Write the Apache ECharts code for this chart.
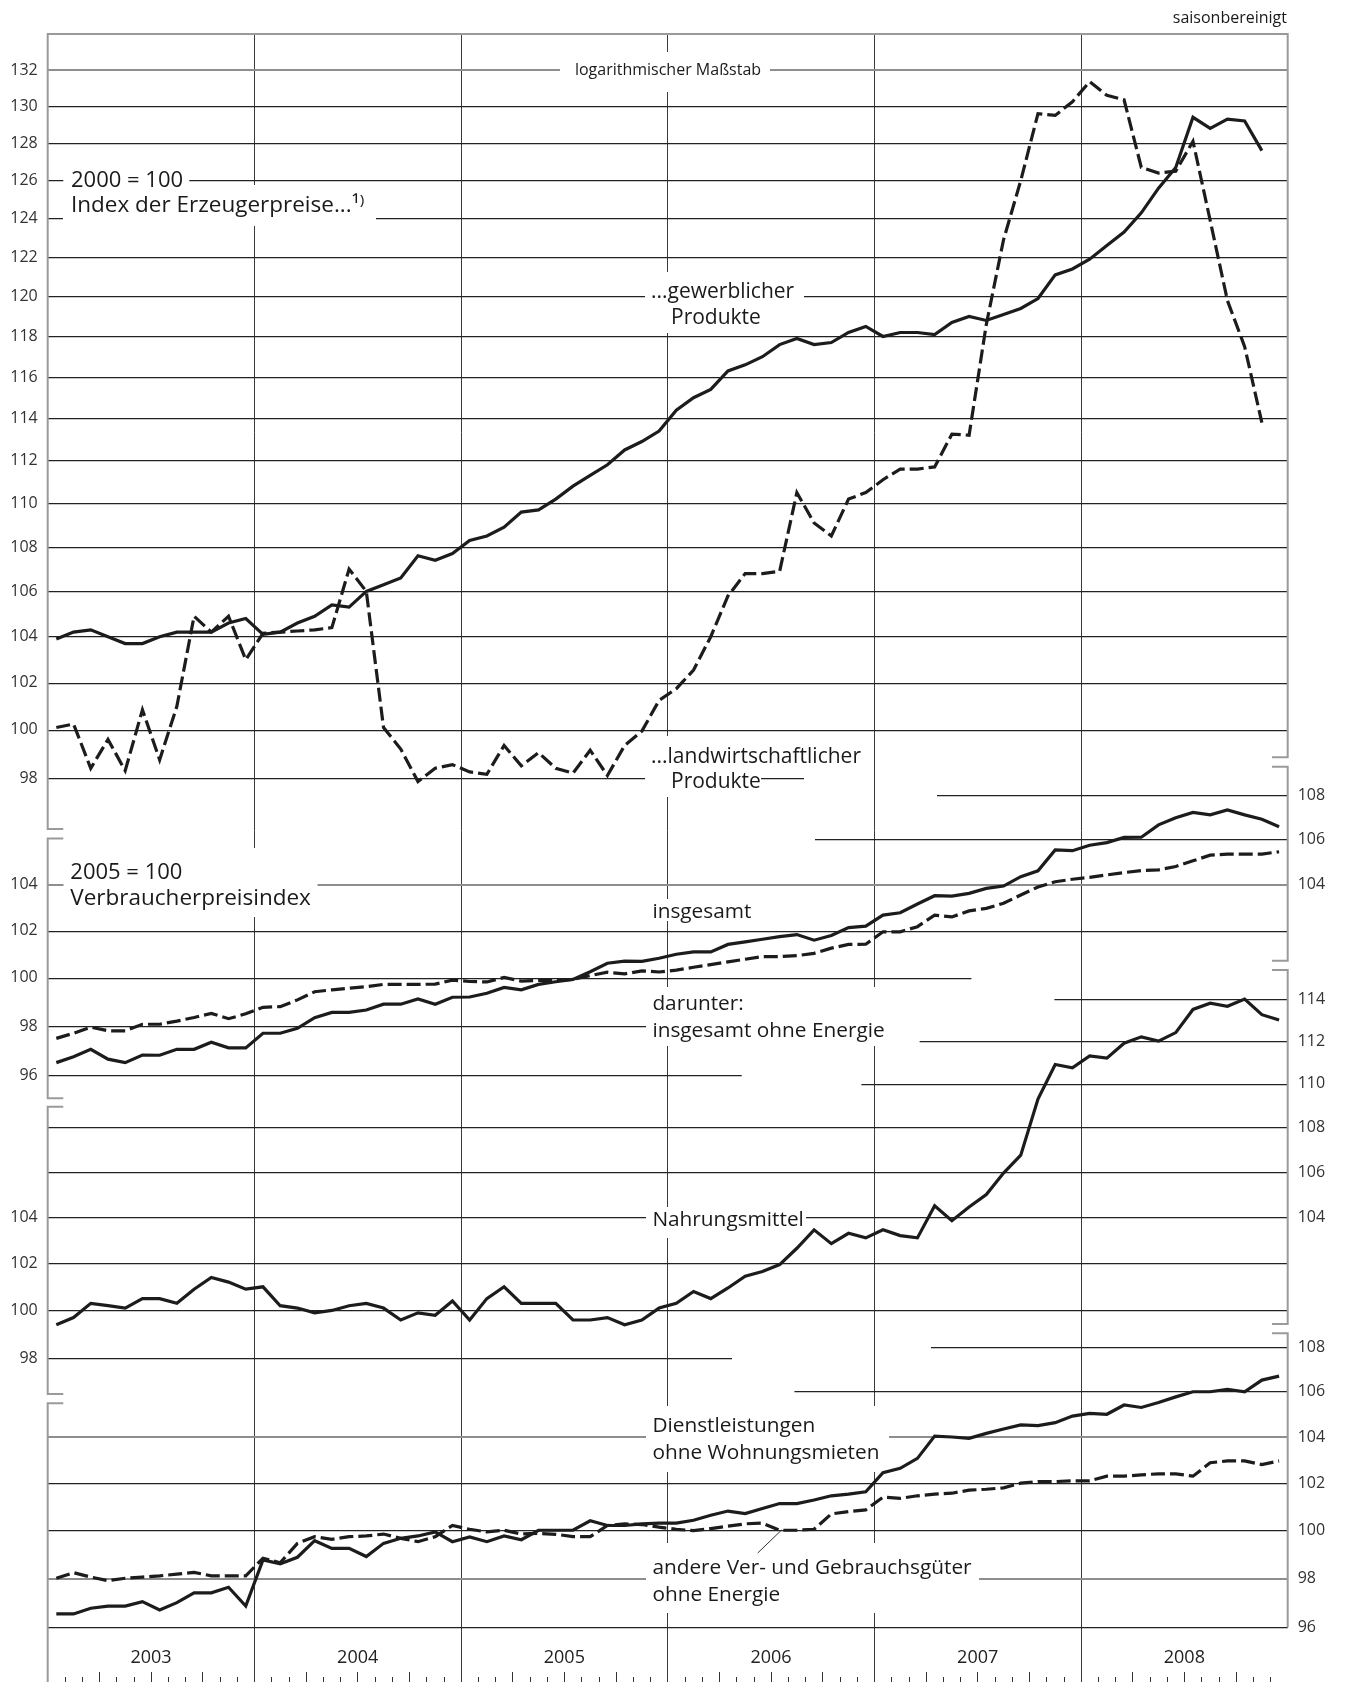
<!DOCTYPE html>
<html><head><meta charset="utf-8">
<script src="https://cdn.jsdelivr.net/npm/echarts@6/dist/echarts.min.js"></script>
<style>html,body{margin:0;padding:0;background:#fff}#c{width:1346px;height:1682px}</style>
</head><body><div id="c"></div>
<script>
// ---------- data ----------
const YEARS = ['2003','2004','2005','2006','2007','2008'];
const MONTHS = [];
YEARS.forEach(y => { for (let m = 1; m <= 12; m++) MONTHS.push(y + '-' + String(m).padStart(2, '0')); });

// Erzeugerpreise, 2000 = 100 (Jan 2003 - Nov 2008)
const ppiIndustrial = [103.9,104.2,104.3,104.0,103.7,103.7,104.0,104.2,104.2,104.2,104.6,104.8,
 104.1,104.2,104.6,104.9,105.4,105.3,106.0,106.3,106.6,107.6,107.4,107.7,
 108.3,108.5,108.9,109.6,109.7,110.2,110.8,111.3,111.8,112.5,112.9,113.4,
 114.4,115.0,115.4,116.3,116.6,117.0,117.6,117.9,117.6,117.7,118.2,118.5,
 118.0,118.2,118.2,118.1,118.7,119.0,118.8,119.1,119.4,119.9,121.1,121.4,
 121.9,122.6,123.3,124.3,125.6,126.7,129.4,128.8,129.3,129.2,127.6];
const ppiAgricultural = [100.1,100.25,98.4,99.6,98.3,100.85,98.75,101.0,104.9,104.2,104.9,103.0,
 104.15,104.2,104.25,104.3,104.4,107.0,106.0,100.1,99.2,97.85,98.4,98.55,
 98.25,98.15,99.35,98.5,99.05,98.4,98.2,99.15,98.1,99.35,99.95,101.25,
 101.75,102.55,104.0,105.8,106.8,106.8,106.9,110.5,109.1,108.5,110.2,110.5,
 111.1,111.6,111.6,111.7,113.25,113.2,118.6,122.9,126.0,129.6,129.5,130.25,
 131.35,130.6,130.35,126.7,126.4,126.5,128.1,123.9,119.8,117.5,113.8];
// Verbraucherpreise, 2005 = 100 (Jan 2003 - Dec 2008)
const cpiTotal = [96.5,96.74,97.04,96.64,96.5,96.81,96.8,97.04,97.04,97.33,97.1,97.1,
 97.7,97.7,97.9,98.34,98.56,98.56,98.66,98.9,98.9,99.12,98.9,99.19,
 99.2,99.36,99.6,99.5,99.73,99.84,99.94,100.26,100.62,100.71,100.7,100.83,
 101.0,101.1,101.1,101.42,101.53,101.64,101.75,101.84,101.6,101.8,102.14,102.2,
 102.68,102.78,103.16,103.52,103.5,103.62,103.84,103.94,104.35,104.61,105.53,105.5,
 105.74,105.86,106.09,106.1,106.65,106.97,107.21,107.1,107.32,107.1,106.9,106.57];
const cpiExEnergy = [97.49,97.7,97.95,97.8,97.8,98.07,98.07,98.2,98.35,98.52,98.3,98.5,
 98.77,98.8,99.08,99.42,99.5,99.57,99.63,99.73,99.73,99.73,99.74,99.91,
 99.85,99.83,100.02,99.87,99.9,99.88,99.94,100.1,100.24,100.17,100.3,100.25,
 100.33,100.45,100.56,100.68,100.79,100.9,100.9,100.94,101.04,101.26,101.42,101.43,
 101.96,101.96,102.18,102.68,102.6,102.86,102.97,103.19,103.55,103.9,104.13,104.24,
 104.32,104.43,104.53,104.62,104.65,104.8,105.05,105.3,105.35,105.35,105.35,105.45];
const cpiFood = [99.4,99.7,100.3,100.2,100.1,100.5,100.5,100.3,100.9,101.4,101.2,100.9,
 101.0,100.2,100.1,99.9,100.0,100.2,100.3,100.1,99.6,99.9,99.8,100.4,
 99.6,100.5,101.0,100.3,100.3,100.3,99.6,99.6,99.7,99.4,99.6,100.1,
 100.3,100.8,100.5,100.95,101.45,101.65,101.95,102.65,103.45,102.85,103.3,103.1,
 103.45,103.2,103.1,104.5,103.85,104.45,105.0,105.95,106.75,109.3,110.9,110.75,
 111.3,111.2,111.9,112.2,112.0,112.4,113.5,113.8,113.65,114.0,113.25,113.0];
const cpiServices = [96.54,96.54,96.77,96.86,96.86,97.04,96.7,97.0,97.4,97.4,97.63,96.86,
 98.76,98.6,98.87,99.56,99.24,99.24,98.9,99.45,99.66,99.76,99.93,99.52,
 99.72,99.52,99.76,99.6,100.0,100.0,100.0,100.4,100.2,100.2,100.27,100.3,
 100.3,100.42,100.63,100.81,100.7,100.92,101.13,101.13,101.28,101.46,101.53,101.63,
 102.45,102.64,103.07,104.04,104.0,103.94,104.16,104.35,104.53,104.5,104.63,104.92,
 105.04,105.0,105.41,105.3,105.52,105.77,106.0,106.0,106.11,106.0,106.52,106.7];
const cpiOtherGoods = [98.0,98.23,98.05,97.9,98.0,98.05,98.1,98.17,98.24,98.1,98.1,98.1,
 98.83,98.64,99.45,99.73,99.62,99.73,99.76,99.84,99.66,99.52,99.73,100.2,
 100.04,99.93,100.0,99.84,99.87,99.83,99.73,99.73,100.2,100.27,100.24,100.13,
 100.04,99.98,100.07,100.17,100.27,100.3,100.0,100.0,100.04,100.69,100.79,100.86,
 101.4,101.35,101.46,101.53,101.57,101.7,101.74,101.8,102.0,102.07,102.07,102.1,
 102.1,102.3,102.3,102.36,102.4,102.4,102.3,102.88,102.96,102.96,102.8,102.96];

// tick labels
const ticksP1 = [98,100,102,104,106,108,110,112,114,116,118,120,122,124,126,128,130,132];
const ticksP2Left = [96,98,100,102,104];
const ticksP2Right = [104,106,108];
const ticksP3Left = [98,100,102,104];
const ticksP3Right = [104,106,108,110,112,114];
const ticksP4Right = [96,98,100,102,104,106,108];

// ---------- layout ----------
const FONT = '"Open Sans","Noto Sans",sans-serif';
const L = 47.7, R = 1287.7, W = R - L, MPX = W / 72;
const toM = px => (px - L) / MPX;
const K = 2377; // px per ln-unit, common to all log panels
const PANELS = [
  {top: 34,   bottom: 829,    anchorV: 132, anchorY: 70},
  {top: 760,  bottom: 1100,   anchorV: 104, anchorY: 884.7},
  {top: 965,  bottom: 1400,   anchorV: 114, anchorY: 999},
  {top: 1330, bottom: 1627.3, anchorV: 108, anchorY: 1347.3}
];
const BOTTOM = 1627.3;

const GRIDL = {color: '#222', width: 1.25, type: 'solid'};
const GRAYL = {color: '#8e8e8e', width: 2, type: 'solid'};
const NOL = {color: 'rgba(0,0,0,0)', width: 0, type: 'solid'};

function seg(v, x0, x1, style, labelPos) {
  const a = {coord: [toM(x0), v], lineStyle: style};
  if (labelPos) a.label = {show: true, position: labelPos, formatter: String(v)};
  return [a, {coord: [toM(x1), v]}];
}
function labelOnly(v, side) {
  return side === 'end' ? seg(v, R - 1, R, NOL, 'end') : seg(v, L, L + 1, NOL, 'start');
}

// gridline specs per panel
const lines = [[], [], [], []];
ticksP1.forEach(v => {
  if (v === 132) lines[0].push(seg(v, L, R, GRAYL, 'start'));
  else if (v === 98) lines[0].push(seg(v, L, 804, GRIDL, 'start'));
  else lines[0].push(seg(v, L, R, GRIDL, 'start'));
});
// panel 2
lines[1].push(seg(108, 937, R, GRIDL, 'end'));
lines[1].push(seg(106, 815, R, GRIDL, 'end'));
lines[1].push(seg(104, L, R, GRAYL, 'start'));
lines[1].push(labelOnly(104, 'end'));
lines[1].push(seg(102, L, R, GRIDL, 'start'));
lines[1].push(seg(100, L, 971.4, GRIDL, 'start'));
lines[1].push(seg(98, L, 646, GRIDL, 'start'));
lines[1].push(seg(96, L, 741.7, GRIDL, 'start'));
// panel 3
lines[2].push(seg(114, 1054.4, R, GRIDL, 'end'));
lines[2].push(seg(112, 919.6, R, GRIDL, 'end'));
lines[2].push(seg(110, 861.4, R, GRIDL, 'end'));
lines[2].push(seg(108, L, R, GRIDL, 'end'));
lines[2].push(seg(106, L, R, GRIDL, 'end'));
lines[2].push(seg(104, L, R, GRIDL, 'start'));
lines[2].push(labelOnly(104, 'end'));
lines[2].push(seg(102, L, R, GRIDL, 'start'));
lines[2].push(seg(100, L, R, GRIDL, 'start'));
lines[2].push(seg(98, L, 732, GRIDL, 'start'));
// panel 4
lines[3].push(seg(108, 931, R, GRIDL, 'end'));
lines[3].push(seg(106, 794.4, R, GRIDL, 'end'));
lines[3].push(seg(104, L, R, GRAYL, 'end'));
lines[3].push(seg(102, L, R, GRIDL, 'end'));
lines[3].push(seg(100, L, R, GRIDL, 'end'));
lines[3].push(seg(98, L, R, GRAYL, 'end'));
lines[3].push(seg(96, L, R, GRIDL, 'end'));

// ---------- axes ----------
const grid = PANELS.map(p => ({left: L, top: p.top, width: W, height: p.bottom - p.top, containLabel: false, outerBoundsMode: 'none'}));
grid.push({left: L, top: 34, width: W, height: BOTTOM - 34, outerBoundsMode: 'none'});       // 4 frame
grid.push({left: L, top: BOTTOM, width: W, height: 1682 - BOTTOM, outerBoundsMode: 'none'}); // 5 band
grid.push({left: L, top: BOTTOM, width: W, height: 1682 - BOTTOM, outerBoundsMode: 'none'}); // 6 band

const xAxis = [];
const yAxis = [];
PANELS.forEach((p, i) => {
  xAxis.push({type: 'category', gridIndex: i, data: MONTHS, boundaryGap: true, show: false});
  xAxis.push({type: 'value', gridIndex: i, min: 0, max: 72, show: false});
  yAxis.push({type: 'log', gridIndex: i, show: false,
    min: p.anchorV * Math.exp(-(p.bottom - p.anchorY) / K),
    max: p.anchorV * Math.exp((p.anchorY - p.top) / K)});
});
const QUARTER_TICKS = [], MONTH_TICKS = [];
for (let m = 1; m < 72; m++) {
  if (m % 12 === 0) continue;
  if (m % 3 === 0) QUARTER_TICKS.push(m); else MONTH_TICKS.push(m);
}
const YEAR_BOUNDS = [12, 24, 36, 48, 60];
// 8: year lines
xAxis.push({type: 'value', gridIndex: 4, min: 0, max: 72, interval: 12, position: 'bottom',
  axisLine: {show: false, onZero: false}, axisLabel: {show: false},
  axisTick: {show: true, customValues: YEAR_BOUNDS, length: 1682 - BOTTOM, lineStyle: {color: '#3a3a3a', width: 1}},
  splitLine: {show: true, showMinLine: true, showMaxLine: true, lineStyle: {color: '#3a3a3a', width: 1}}});
// 9: year labels
xAxis.push({type: 'category', gridIndex: 5, position: 'top', data: YEARS, boundaryGap: true,
  axisLine: {show: false, onZero: false}, axisTick: {show: false}, splitLine: {show: false},
  axisLabel: {inside: true, margin: 22, fontSize: 18, color: '#222', fontFamily: FONT}});
// 10: quarter ticks
xAxis.push({type: 'value', gridIndex: 5, position: 'bottom', min: 0, max: 72,
  axisLine: {show: false, onZero: false}, axisLabel: {show: false}, splitLine: {show: false},
  axisTick: {show: true, inside: true, length: 10, customValues: QUARTER_TICKS, lineStyle: {color: '#333', width: 1}}});
// 11: month ticks
xAxis.push({type: 'value', gridIndex: 6, position: 'bottom', min: 0, max: 72,
  axisLine: {show: false, onZero: false}, axisLabel: {show: false}, splitLine: {show: false},
  axisTick: {show: true, inside: true, length: 5, customValues: MONTH_TICKS, lineStyle: {color: '#333', width: 1}}});
[4, 5, 6].forEach(g => yAxis.push({type: 'value', gridIndex: g, show: false}));

// ---------- series ----------
function dataLine(name, data, p, dashed) {
  return {name, type: 'line', xAxisIndex: 2 * p, yAxisIndex: p, data, symbol: 'none', z: 5, silent: true,
    lineStyle: {color: '#1c1c1c', width: 3.2, type: dashed ? [14, 5] : 'solid', join: 'miter'}};
}
const series = [];
PANELS.forEach((p, i) => {
  series.push({type: 'line', xAxisIndex: 2 * i + 1, yAxisIndex: i, data: [], z: 1, silent: true,
    markLine: {z: 1, silent: true, symbol: ['none', 'none'], animation: false,
      lineStyle: {type: 'solid', color: '#222', width: 1.25},
      label: {show: false, color: '#333', fontFamily: FONT, fontSize: 16, distance: 10},
      emphasis: {disabled: true},
      data: lines[i]}});
});
series.push(dataLine('gewerbliche Produkte', ppiIndustrial, 0, false));
series.push(dataLine('landwirtschaftliche Produkte', ppiAgricultural, 0, true));
series.push(dataLine('insgesamt', cpiTotal, 1, false));
series.push(dataLine('insgesamt ohne Energie', cpiExEnergy, 1, true));
series.push(dataLine('Nahrungsmittel', cpiFood, 2, false));
series.push(dataLine('Dienstleistungen ohne Wohnungsmieten', cpiServices, 3, false));
series.push(dataLine('andere Ver- und Gebrauchsgüter ohne Energie', cpiOtherGoods, 3, true));

// ---------- annotations ----------
const G = [];
const FRAME = {stroke: '#9a9a9a', lineWidth: 2, fill: null};
[
  [[63.3,829],[L,829],[L,34],[R,34],[R,757.3],[1272,757.3]],
  [[63.3,838.5],[L,838.5],[L,1098.3],[63.3,1098.3]],
  [[63.3,1106.7],[L,1106.7],[L,1394],[63.3,1394]],
  [[63.3,1403.3],[L,1403.3],[L,1682]],
  [[1272,766.7],[R,766.7],[R,960.7],[1272,960.7]],
  [[1272,970],[R,970],[R,1324],[1272,1324]],
  [[1272,1333.3],[R,1333.3],[R,BOTTOM]]
].forEach(pts => G.push({type: 'polyline', shape: {points: pts}, style: FRAME, z: 2, silent: true}));

[
  [560, 52, 770, 92], [63.3, 166, 189.3, 195], [63, 185, 376, 226],
  [645, 272, 804, 333], [645, 736, 868, 768], [645, 768, 761, 797],
  [63.5, 848, 317.5, 917], [646, 899, 754, 921], [646, 987, 890, 1046],
  [646, 1207, 806, 1238], [646, 1406, 889, 1472], [646, 1543, 979, 1613]
].forEach(b => G.push({type: 'rect', shape: {x: b[0], y: b[1], width: b[2] - b[0], height: b[3] - b[1]},
  style: {fill: '#fff'}, z: 3, silent: true}));

function txt(text, x, y, size, align) {
  return {type: 'text', x, y, z: 4, silent: true,
    style: {text, fill: '#1a1a1a', font: size + 'px ' + FONT,
      textAlign: align || 'left', textVerticalAlign: 'middle', align: align || 'left', verticalAlign: 'middle'}};
}
[
  ['saisonbereinigt', 1287, 18, 16, 'right'],
  ['logarithmischer Maßstab', 668, 70.5, 16, 'center'],
  ['2000 = 100', 71, 180.5, 22],
  ['Index der Erzeugerpreise...¹⁾', 71, 205.5, 22.5],
  ['...gewerblicher', 651, 292.5, 21],
  ['Produkte', 671, 318.5, 21],
  ['...landwirtschaftlicher', 651, 757.5, 21],
  ['Produkte', 671, 782.5, 21],
  ['2005 = 100', 70.3, 872.3, 22],
  ['Verbraucherpreisindex', 70.3, 899, 22.5],
  ['insgesamt', 652.4, 912, 20.8],
  ['darunter:', 652.4, 1004.2, 20.8],
  ['insgesamt ohne Energie', 652.4, 1030.8, 20.8],
  ['Nahrungsmittel', 652.4, 1220.5, 20.8],
  ['Dienstleistungen', 652.4, 1426.5, 20.8],
  ['ohne Wohnungsmieten', 652.4, 1453.2, 20.8],
  ['andere Ver- und Gebrauchsgüter', 652.4, 1568.2, 20.8],
  ['ohne Energie', 652.4, 1594.8, 20.8]
].forEach(t => G.push(txt(t[0], t[1], t[2], t[3], t[4])));
G.push({type: 'line', shape: {x1: 781.6, y1: 1530, x2: 757.7, y2: 1553}, style: {stroke: '#333', lineWidth: 1}, z: 4, silent: true});

const chart = echarts.init(document.getElementById('c'), null, {renderer: 'canvas', width: 1346, height: 1682});
chart.setOption({
  animation: false,
  backgroundColor: '#fff',
  textStyle: {fontFamily: FONT},
  grid, xAxis, yAxis, series,
  graphic: {elements: G}
});
</script>
</body></html>
